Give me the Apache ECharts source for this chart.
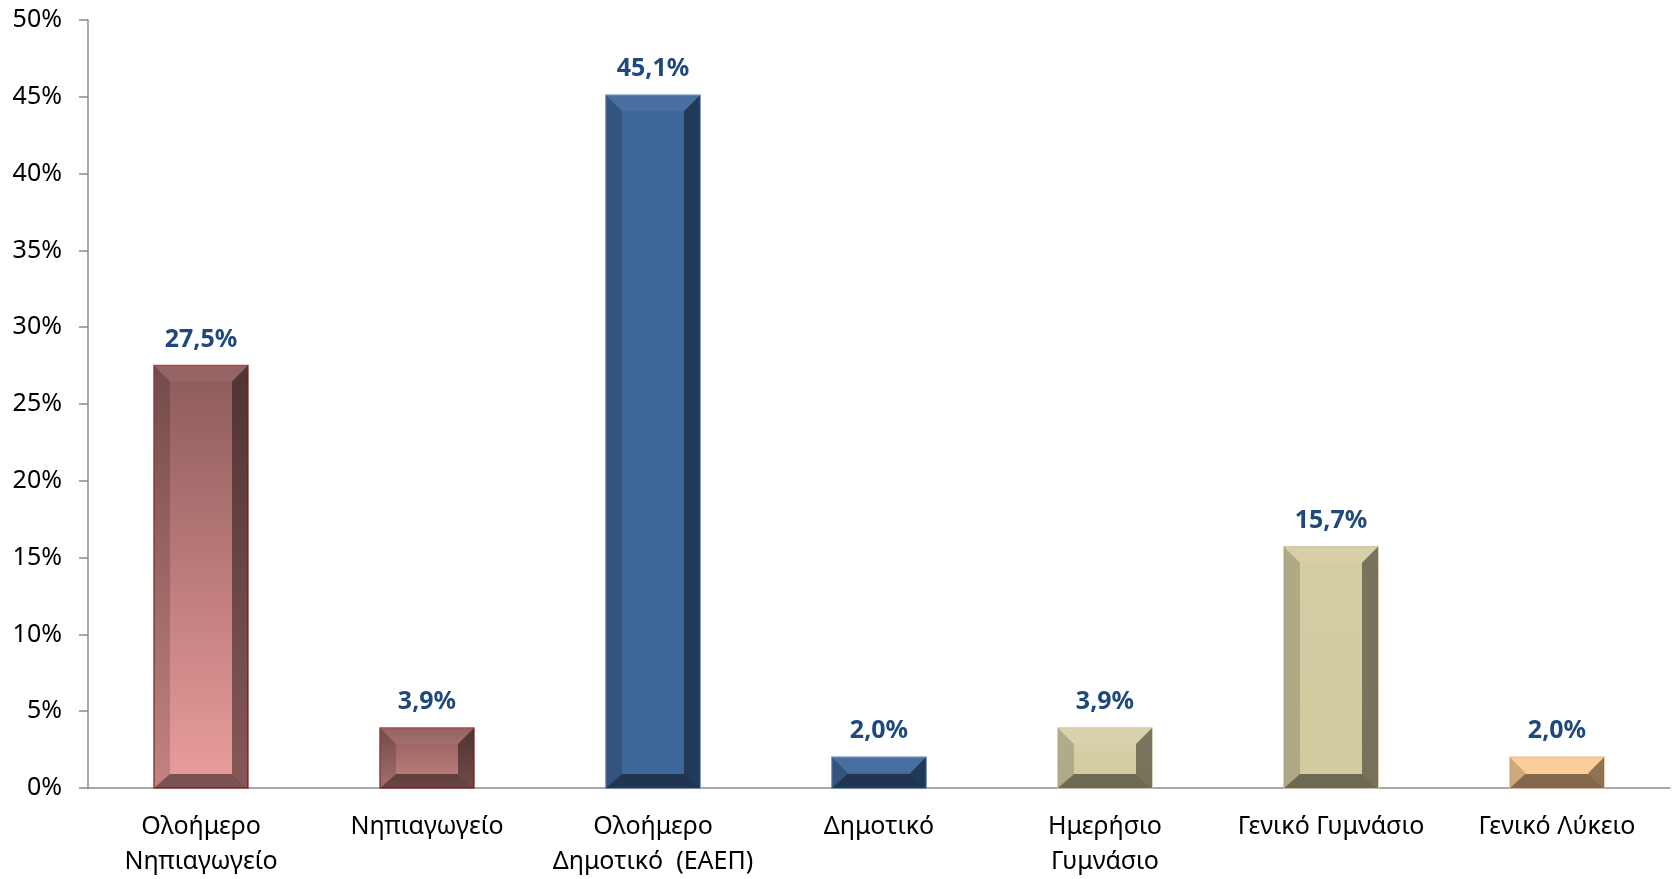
<!DOCTYPE html>
<html><head><meta charset="utf-8">
<script src="https://cdn.jsdelivr.net/npm/echarts@6/dist/echarts.min.js"></script>
<style>html,body{margin:0;padding:0;background:#fff}#c{width:1673px;height:879px}</style>
</head><body><div id="c"></div>
<script>
const categories = ['Ολοήμερο\nΝηπιαγωγείο','Νηπιαγωγείο','Ολοήμερο\nΔημοτικό  (ΕΑΕΠ)','Δημοτικό','Ημερήσιο\nΓυμνάσιο','Γενικό Γυμνάσιο','Γενικό Λύκειο'];
const values = [27.5, 3.9, 45.1, 2.0, 3.9, 15.7, 2.0];
const faceTop = ['#8c5a5a','#8c5a5a','#3d6699','#3d6699','#d8d0a8','#d4cca2','#fbcd95'];
const faceBottom = ['#eb9e9c','#c78582','#3d6699','#3d6699','#d2cba0','#d2cba0','#fac990'];
const borders = ['#a04545','#a04545','#5a7fb0','#5a7fb0','#cfc8a4','#cfc8a4','#e8c09a'];
const fontFam = '"Noto Sans", "DejaVu Sans", sans-serif';

const chart = echarts.init(document.getElementById('c'));
chart.setOption({
  animation: false,
  grid: {left: 88, right: 3, top: 20, bottom: 90},
  xAxis: {
    type: 'category', data: categories,
    axisLine: {lineStyle: {color: '#8c8c8c', width: 1.5}},
    axisTick: {length: 9, lineStyle: {color: '#8c8c8c', width: 1.5}},
    axisLabel: {fontFamily: fontFam, fontSize: 25, color: '#000', lineHeight: 35, margin: 21, interval: 0}
  },
  yAxis: {
    type: 'value', min: 0, max: 50, interval: 5,
    splitLine: {show: false},
    axisLine: {show: true, lineStyle: {color: '#8c8c8c', width: 1.5}},
    axisTick: {show: true, length: 9, lineStyle: {color: '#8c8c8c', width: 1.5}},
    axisLabel: {fontFamily: fontFam, fontSize: 25, color: '#000', margin: 26, formatter: v => v + '%'}
  },
  series: [{
    type: 'custom',
    data: values.map((v, i) => [i, v]),
    encode: {x: 0, y: 1},
    renderItem: function (params, api) {
      const i = api.value(0), v = api.value(1);
      const top = api.coord([i, v]);
      const base = api.coord([i, 0]);
      const bw = api.size([1, 0])[0] * 0.416;
      const x0 = top[0] - bw / 2, x1 = top[0] + bw / 2;
      const y0 = top[1], y1 = base[1];
      const h = y1 - y0;
      const b = Math.min(16, h / 2, bw / 2);
      const bb = Math.min(14, h / 2);
      const poly = (pts, fill) => ({type: 'polygon', shape: {points: pts}, style: {fill: fill}, silent: true});
      return {
        type: 'group',
        children: [
          {type: 'rect', shape: {x: x0, y: y0, width: bw, height: h},
           style: {fill: new echarts.graphic.LinearGradient(0, 0, 0, 1, [{offset: 0, color: faceTop[i]}, {offset: 1, color: faceBottom[i]}]), stroke: borders[i], lineWidth: 1.5}},
          poly([[x0, y0], [x1, y0], [x1 - b, y0 + b], [x0 + b, y0 + b]], 'rgba(255,255,255,0.06)'),
          poly([[x0, y0], [x0 + b, y0 + b], [x0 + b, y1 - bb], [x0, y1]], 'rgba(0,0,0,0.17)'),
          poly([[x1, y0], [x1 - b, y0 + b], [x1 - b, y1 - bb], [x1, y1]], 'rgba(0,0,0,0.43)'),
          poly([[x0, y1], [x0 + b, y1 - bb], [x1 - b, y1 - bb], [x1, y1]], 'rgba(0,0,0,0.48)'),
          {type: 'text', x: top[0], y: y0 - 26,
           style: {text: v.toFixed(1).replace('.', ',') + '%', fill: '#1f497d', font: 'bold 25px ' + fontFam, align: 'center', verticalAlign: 'middle'}}
        ]
      };
    }
  }]
});
</script></body></html>
